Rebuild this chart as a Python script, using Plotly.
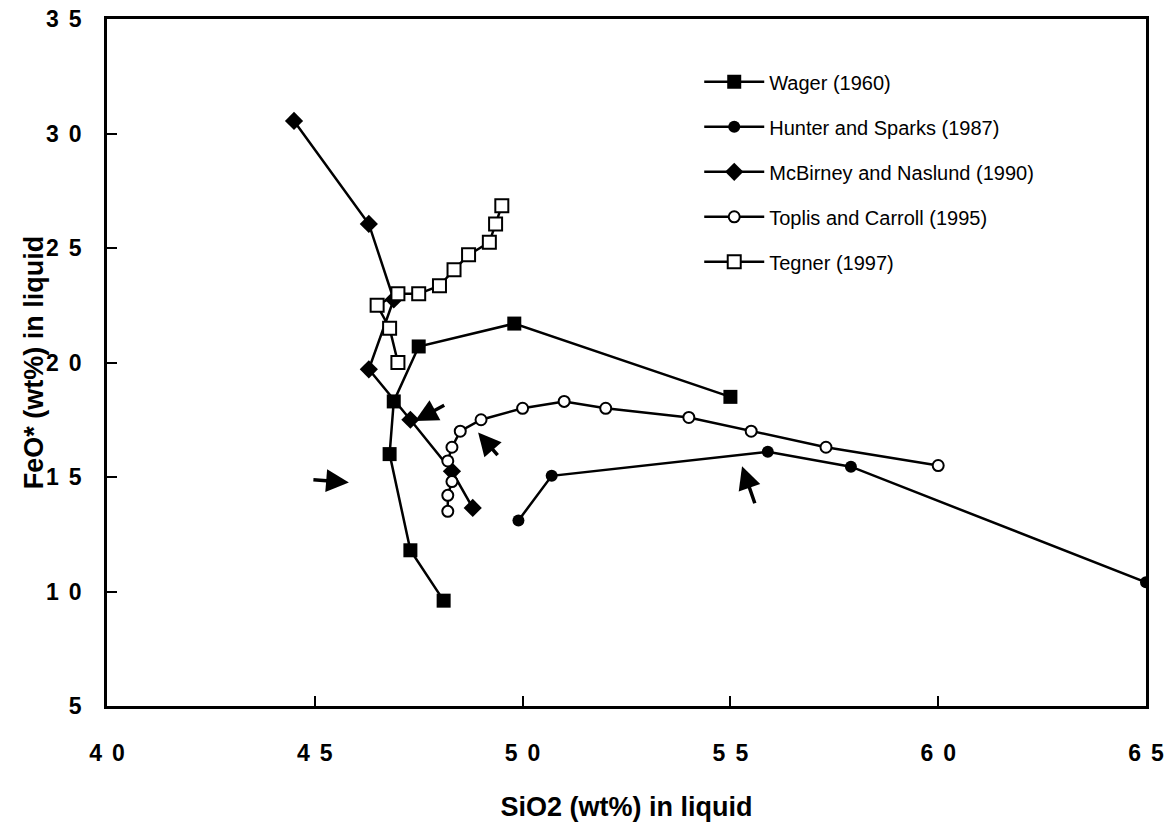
import plotly.graph_objects as go

# ---- data ----
wager_x = [48.1, 47.3, 46.8, 46.9, 47.5, 49.8, 55.0]
wager_y = [9.6, 11.8, 16.0, 18.3, 20.7, 21.7, 18.5]

hunter_x = [49.9, 50.7, 55.9, 57.9, 65.0]
hunter_y = [13.1, 15.05, 16.1, 15.45, 10.4]

mcb_x = [44.5, 46.3, 46.9, 46.3, 47.3, 48.3, 48.8]
mcb_y = [30.55, 26.05, 22.75, 19.7, 17.5, 15.25, 13.65]

toplis_x = [48.2, 48.2, 48.3, 48.2, 48.3, 48.5, 49.0, 50.0, 51.0, 52.0, 54.0, 55.5, 57.3, 60.0]
toplis_y = [13.5, 14.2, 14.8, 15.7, 16.3, 17.0, 17.5, 18.0, 18.3, 18.0, 17.6, 17.0, 16.3, 15.5]

tegner_x = [49.5, 49.35, 49.2, 48.7, 48.35, 48.0, 47.5, 47.0, 46.5, 46.8, 47.0]
tegner_y = [26.85, 26.05, 25.25, 24.7, 24.05, 23.35, 23.0, 23.0, 22.5, 21.5, 20.0]

# arrows: tail (ax, ay) -> tip (x, y)
arrow_tail_x = [44.93, 48.15, 49.43, 55.60]
arrow_tail_y = [14.89, 18.17, 15.89, 13.79]
arrow_tip_x = [45.82, 47.41, 48.93, 55.28]
arrow_tip_y = [14.76, 17.44, 16.94, 15.47]

x_ticks = [40, 45, 50, 55, 60, 65]
y_ticks = [5, 10, 15, 20, 25, 30, 35]

series_names = ["Wager (1960)", "Hunter and Sparks (1987)",
                "McBirney and Naslund (1990)", "Toplis and Carroll (1995)",
                "Tegner (1997)"]

styles = [
    ("square", 14, False),
    ("circle", 12, False),
    ("diamond", 14, False),
    ("circle", 11, True),
    ("square", 13, True),
]
xs_all = [wager_x, hunter_x, mcb_x, toplis_x, tegner_x]
ys_all = [wager_y, hunter_y, mcb_y, toplis_y, tegner_y]

fig = go.Figure()
for i, (name, xs, ys, (sym, sz, open_)) in enumerate(zip(series_names, xs_all, ys_all, styles)):
    fig.add_trace(go.Scatter(
        x=xs, y=ys, mode="lines+markers", name=name,
        legendgroup=f"g{i}",
        line=dict(color="black", width=2.5),
        marker=dict(symbol=sym, size=sz,
                    color="white" if open_ else "black",
                    line=dict(color="black", width=2 if open_ else 0)),
    ))

for tx, ty, hx, hy in zip(arrow_tail_x, arrow_tail_y, arrow_tip_x, arrow_tip_y):
    fig.add_annotation(x=hx, y=hy, ax=tx, ay=ty, xref="x", yref="y",
                       axref="x", ayref="y", text="", showarrow=True,
                       arrowhead=2, arrowsize=1.3, arrowwidth=3.5,
                       arrowcolor="black", standoff=0)

tick_font = dict(family="Liberation Sans", size=23, weight="bold", color="black")
title_font = dict(family="Liberation Sans", size=27, weight="bold", color="black")

fig.update_layout(
    width=1170, height=822,
    margin=dict(l=107, r=24, t=19, b=116),
    plot_bgcolor="white", paper_bgcolor="white",
    showlegend=True,
    legend=dict(x=0.57, y=0.937, xanchor="left", yanchor="top",
                font=dict(family="Liberation Sans", size=20, color="black"),
                tracegroupgap=16, bgcolor="rgba(0,0,0,0)", itemwidth=60),
    font=dict(family="Liberation Sans", color="black"),
)
fig.update_xaxes(
    range=[40, 65], tickvals=x_ticks, ticktext=[str(v) for v in x_ticks],
    showgrid=False, zeroline=False, showline=True, linecolor="black",
    linewidth=2.5, mirror=True, ticks="inside", ticklen=10, tickwidth=1.5,
    tickcolor="black", tickfont=tick_font, automargin=False,
    ticklabelstandoff=25,
    title=dict(text="SiO2 (wt%) in liquid", font=title_font, standoff=32),
)
fig.update_yaxes(
    range=[5, 35], tickvals=y_ticks, ticktext=[str(v) for v in y_ticks],
    showgrid=False, zeroline=False, showline=True, linecolor="black",
    linewidth=2.5, mirror=True, ticks="inside", ticklen=10, tickwidth=1.5,
    tickcolor="black", tickfont=tick_font, automargin=False,
    ticklabelstandoff=18,
    title=dict(text="FeO* (wt%) in liquid", font=title_font, standoff=5),
)

# widen the gap between the digits of tick labels, as in the original figure
post = """
(function(){
  var ns = 'http://www.w3.org/2000/svg';
  document.querySelectorAll('.xtick text, .ytick text').forEach(function(t){
    var s = t.textContent;
    if (s.length < 2) return;
    t.textContent = s[0];
    var sp = document.createElementNS(ns, 'tspan');
    sp.setAttribute('dx', '10');
    sp.textContent = s.slice(1);
    t.appendChild(sp);
  });
})();
"""
fig.write_html("out.html", post_script=post)
